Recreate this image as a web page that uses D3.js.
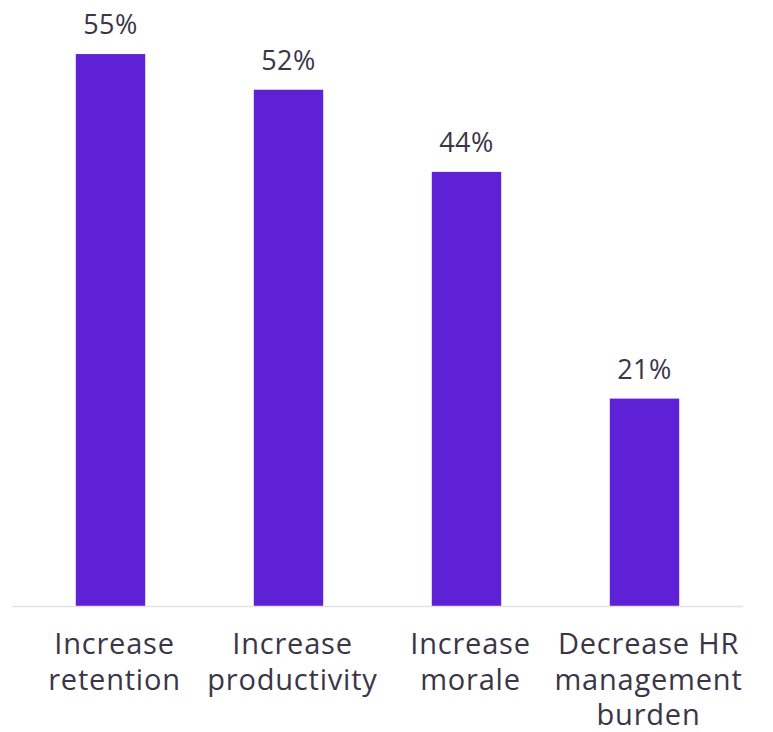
<!DOCTYPE html>
<html>
<head>
<meta charset="utf-8">
<script src="https://cdn.jsdelivr.net/npm/d3@7"></script>
<style>
  html, body { margin: 0; padding: 0; background: #ffffff; }
  svg { display: block; }
</style>
</head>
<body>
<svg id="chart" width="773" height="732"></svg>
<script>
// Data
const categories = [
  ["Increase", "retention"],
  ["Increase", "productivity"],
  ["Increase", "morale"],
  ["Decrease HR", "management", "burden"]
];
const values = [55.8, 52.2, 43.9, 21.0];
const valueLabels = ["55%", "52%", "44%", "21%"];

const svg = d3.select("#chart");
const baseline = 606.5;
const fontFamily = "'Open Sans', sans-serif";
const textColor = "#3b3548";
const barColor = "#5e21d5";

const x = d3.scaleBand()
  .domain(d3.range(categories.length))
  .range([21.5, 733.5])
  .paddingInner(0.61)
  .paddingOuter(0.305);

const y = d3.scaleLinear()
  .domain([0, 10])
  .range([baseline, baseline - 99]);

// Bars
svg.selectAll("rect.bar")
  .data(values)
  .join("rect")
  .attr("class", "bar")
  .attr("x", (d, i) => x(i))
  .attr("y", d => y(d))
  .attr("width", x.bandwidth())
  .attr("height", d => baseline - y(d))
  .attr("fill", barColor);

// Baseline axis
svg.append("line")
  .attr("x1", 12).attr("x2", 743)
  .attr("y1", baseline).attr("y2", baseline)
  .attr("stroke", "#e3e3e3")
  .attr("stroke-width", 1.5);

// Value labels
svg.selectAll("text.val")
  .data(values)
  .join("text")
  .attr("class", "val")
  .attr("x", (d, i) => x(i) + x.bandwidth() / 2)
  .attr("y", d => y(d) - 20)
  .attr("text-anchor", "middle")
  .attr("font-family", fontFamily)
  .attr("font-size", 27)
  .attr("letter-spacing", 0.5)
  .attr("fill", textColor)
  .text((d, i) => valueLabels[i]);

// Category labels
const cat = svg.selectAll("text.cat")
  .data(categories)
  .join("text")
  .attr("class", "cat")
  .attr("text-anchor", "middle")
  .attr("font-family", fontFamily)
  .attr("font-size", 29)
  .attr("letter-spacing", 0.8)
  .attr("fill", textColor);

cat.selectAll("tspan")
  .data((d, i) => d.map(line => ({ line, i })))
  .join("tspan")
  .attr("x", d => x(d.i) + x.bandwidth() / 2 + 4)
  .attr("y", (d, j) => 654 + j * 35.5)
  .text(d => d.line);
</script>
</body>
</html>
